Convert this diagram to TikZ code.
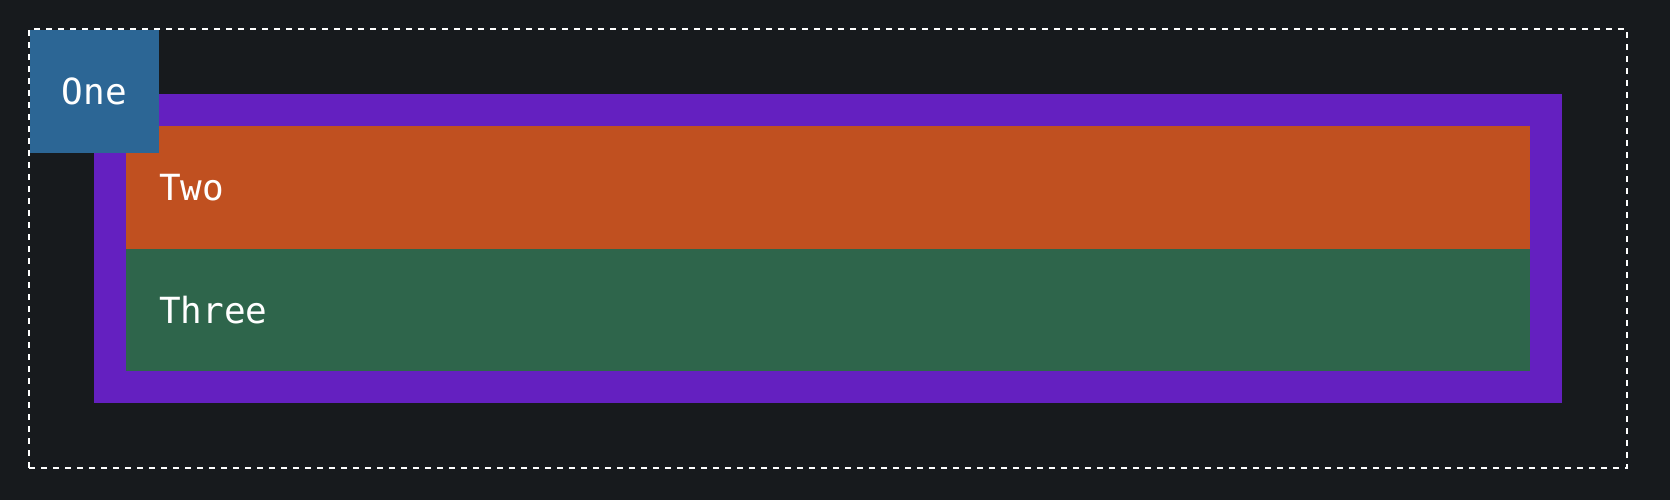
\documentclass[tikz,border=0pt]{standalone}
\usepackage{fontspec}
\setmonofont{DejaVu Sans Mono}
\definecolor{bg}{HTML}{171A1D}
\definecolor{cblue}{HTML}{2C6695}
\definecolor{cpurple}{HTML}{6420C0}
\definecolor{corange}{HTML}{C05020}
\definecolor{cgreen}{HTML}{2E654B}
\begin{document}
\begin{tikzpicture}[x=1pt,y=-1pt,
  box/.style={rectangle, inner sep=0pt, outer sep=0pt, anchor=north west},
  lbl/.style={text=white, font=\ttfamily\fontsize{36}{36}\selectfont},
  rowbox/.style={box, lbl, minimum width=1404pt, text width=1338pt, align=left, inner xsep=33pt, minimum height=122.5pt}]
\fill[bg] (0,0) rectangle (1670,500);
\useasboundingbox (0,0) rectangle (1670,500);
\node[box, draw=white, line width=1.6pt, dash pattern=on 6pt off 6pt, minimum width=1598pt, minimum height=439pt] (outer) at (29,29) {};
\node[box, fill=cpurple, minimum width=1468pt, minimum height=309pt] (group) at (94,94) {};
\node[rowbox, fill=corange] (two) at (126,126) {Two};
\node[rowbox, fill=cgreen, anchor=north west] (three) at (two.south west) {Three};
\node[box, lbl, fill=cblue, minimum width=129pt, minimum height=123pt] (one) at (30,30) {One};
\end{tikzpicture}
\end{document}
